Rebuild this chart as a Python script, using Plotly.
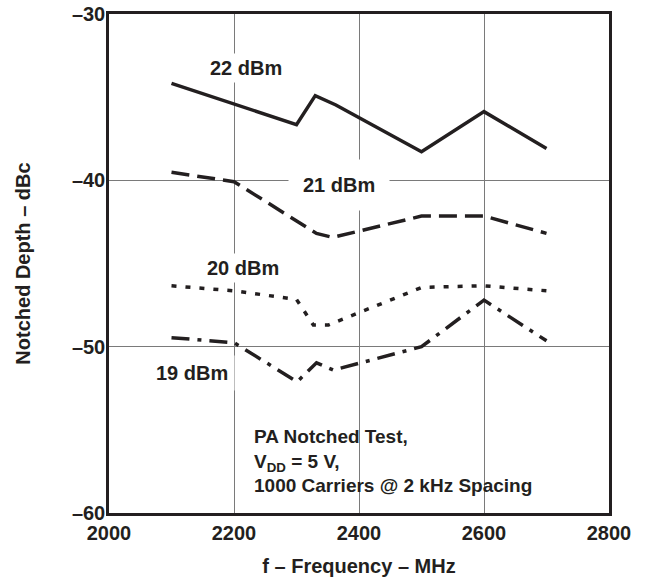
import plotly.graph_objects as go

# ---- data ----
freq_22 = [2100, 2300, 2330, 2363, 2500, 2600, 2700]
depth_22 = [-34.17, -36.65, -34.91, -35.47, -38.28, -35.87, -38.08]

freq_21 = [2100, 2200, 2332, 2358, 2500, 2600, 2700]
depth_21 = [-39.52, -40.08, -43.19, -43.43, -42.15, -42.15, -43.19]

freq_20 = [2100, 2200, 2300, 2327, 2351, 2500, 2600, 2700]
depth_20 = [-46.34, -46.64, -47.16, -48.7, -48.7, -46.44, -46.34, -46.64]

freq_19 = [2100, 2200, 2301, 2332, 2359, 2500, 2600, 2700]
depth_19 = [-49.46, -49.76, -52.11, -50.97, -51.41, -50.0, -47.2, -49.65]

x_ticks = [2000, 2200, 2400, 2600, 2800]
x_ticktext = ["2000", "2200", "2400", "2600", "2800"]
y_ticks = [-30, -40, -50, -60]
y_ticktext = ["\u201330", "\u201340", "\u201350", "\u201360"]

series_labels = ["22 dBm", "21 dBm", "20 dBm", "19 dBm"]
label_x = [2219, 2368, 2215, 2133]
label_y = [-33.27, -40.28, -45.29, -51.6]

note_lines = ["PA Notched Test,", "V<sub>DD</sub> = 5 V,", "1000 Carriers @ 2 kHz Spacing"]

FONT = "Liberation Sans, Arial, Helvetica, sans-serif"
INK = "#231f20"

FW, FH = 648, 579
L, R, T, B = 109, 609, 14, 513
W, H = R - L, B - T

fig = go.Figure()
line_styles = [
    (freq_22, depth_22, "solid"),
    (freq_21, depth_21, "18px,8px"),
    (freq_20, depth_20, "5px,9px"),
    (freq_19, depth_19, "18px,8px,4px,8px"),
]
for (fx, fy, dash), name in zip(line_styles, series_labels):
    fig.add_trace(go.Scatter(x=fx, y=fy, mode="lines", name=name,
                             line=dict(color=INK, width=3.5, dash=dash),
                             showlegend=False, hoverinfo="skip"))

# series labels (white background hides gridlines behind them)
pads = [3, 14, 3, 6]
for txt, lx, ly, pd in zip(series_labels, label_x, label_y, pads):
    fig.add_annotation(x=lx, y=ly, text=f"<b>{txt}</b>", showarrow=False,
                       font=dict(family=FONT, size=20, color=INK),
                       bgcolor="white", borderpad=pd, xanchor="center", yanchor="middle")

# white box behind the test-condition note
fig.add_shape(type="rect", xref="paper", yref="paper",
              x0=(240 - L) / W, x1=(535 - L) / W,
              y0=(B - 494) / H, y1=(B - 428) / H,
              fillcolor="white", line=dict(width=0), layer="between")
fig.add_annotation(xref="paper", yref="paper", x=(252 - L) / W, y=(B - 461) / H,
                   text="<br>".join(f"<b>{t}</b>" for t in note_lines),
                   showarrow=False, xanchor="left", yanchor="middle", align="left",
                   font=dict(family=FONT, size=19, color=INK))

fig.update_layout(
    width=FW, height=FH,
    margin=dict(l=L, r=FW - R, t=T, b=FH - B),
    paper_bgcolor="white", plot_bgcolor="white",
    font=dict(family=FONT, size=20, color=INK),
    xaxis=dict(range=[2000, 2800], tickvals=x_ticks, ticktext=[f"<b>{t}</b>" for t in x_ticktext],
               showgrid=True, gridcolor="#7a7a7a", gridwidth=1.3, zeroline=False,
               showline=True, linecolor=INK, linewidth=2.5, mirror=True, ticks="",
               automargin=False, ticklabeloverflow="allow",
               title=dict(text="<b>f \u2013 Frequency \u2013 MHz</b>", standoff=17,
                          font=dict(family=FONT, size=20, color=INK)),
               tickfont=dict(family=FONT, size=20, color=INK)),
    yaxis=dict(range=[-60, -30], tickvals=y_ticks, ticktext=[f"<b>{t}</b>" for t in y_ticktext],
               showgrid=True, gridcolor="#7a7a7a", gridwidth=1.3, zeroline=False,
               showline=True, linecolor=INK, linewidth=2.5, mirror=True, ticks="",
               automargin=False, ticklabeloverflow="allow", ticklabelstandoff=-3,
               title=dict(text="<b>Notched Depth \u2013 dBc</b>", standoff=36,
                          font=dict(family=FONT, size=20, color=INK)),
               tickfont=dict(family=FONT, size=20, color=INK)),
)

# remove the default page margin so the figure starts at the window's corner
fig.write_html("out.html", config={"displayModeBar": False},
               post_script="document.body.style.margin='0px';")
